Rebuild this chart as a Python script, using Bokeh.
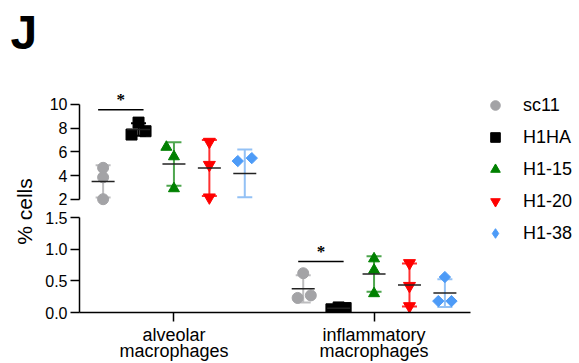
import numpy as np
from bokeh.plotting import figure
from bokeh.models import (Range1d, FixedTicker, Legend, LegendItem, Label,
                          PrintfTickFormatter)
from bokeh.layouts import row, column
from bokeh.embed import file_html
from bokeh.resources import INLINE

# ---------------- data ----------------
categories = ["alveolar\nmacrophages", "inflammatory\nmacrophages"]
series = ["sc11", "H1HA", "H1-15", "H1-20", "H1-38"]
# values per series: [alveolar replicates], [inflammatory replicates]
sc11 = [[4.65, 3.85, 2.00], [0.62, 0.23, 0.27]]
h1ha = [[8.47, 7.46, 7.74], [0.05, 0.07, 0.08]]
h1_15 = [[6.40, 5.60, 2.90], [0.85, 0.67, 0.30]]
h1_20 = [[6.85, 4.90, 2.15], [0.78, 0.42, 0.10]]
h1_38 = [[5.22, 5.47, 1.85], [0.56, 0.18, 0.18]]
values = {"sc11": sc11, "H1HA": h1ha, "H1-15": h1_15, "H1-20": h1_20, "H1-38": h1_38}
# horizontal scatter spread of overlapping replicates (category units)
jitter = {
    "sc11": [[0, 0, 0], [0, -0.028, 0.038]],
    "H1HA": [[0, -0.035, 0.035], [-0.036, 0.035, 0]],
    "H1-15": [[-0.038, 0, 0], [0, 0, 0]],
    "H1-20": [[0, 0, 0], [0, 0, 0]],
    "H1-38": [[-0.035, 0.035, 0], [0, -0.033, 0.033]],
}
upper_ticks = [2, 4, 6, 8, 10]
lower_ticks = [0.0, 0.5, 1.0, 1.5]
upper_segment = (2, 10)
lower_segment = (0, 1.5)
# (category index, series a, series b, bar height, label)
significance = [(0, "sc11", "H1HA", 9.55, "*"), (1, "sc11", "H1HA", 0.805, "*")]

# ---------------- style ----------------
FONT = "Liberation Sans"
colors = {"sc11": "#a3a3a6", "H1HA": "#000000", "H1-15": "#008000",
          "H1-20": "#ff0000", "H1-38": "#4d9bf7"}
err_colors = {"sc11": "#bdbdbf", "H1HA": "#000000", "H1-15": "#4ea64e",
              "H1-20": "#ff3030", "H1-38": "#93c1f5"}
markers = {"sc11": "circle", "H1HA": "square", "H1-15": "triangle",
           "H1-20": "inverted_triangle", "H1-38": "square"}
legend_markers = {"sc11": "circle", "H1HA": "square", "H1-15": "triangle",
                  "H1-20": "inverted_triangle", "H1-38": "diamond"}
msize = {"sc11": 11, "H1HA": 11, "H1-15": 11, "H1-20": 12, "H1-38": 8}
mangle = {"sc11": 0, "H1HA": 0, "H1-15": 0, "H1-20": 0, "H1-38": np.pi / 4}
DODGE = 0.177

xr = Range1d(-0.472, 1.482)


def style_axis(ax, size="16px"):
    ax.axis_line_color = "black"
    ax.axis_line_width = 1.5
    ax.major_tick_line_color = "black"
    ax.major_tick_line_width = 1.5
    ax.major_tick_in = 0
    ax.major_tick_out = 9
    ax.minor_tick_line_color = None
    ax.major_label_text_font = FONT
    ax.major_label_text_font_size = size
    ax.major_label_text_color = "black"
    ax.major_label_standoff = 3


def draw(p, lo, hi):
    for i, s in enumerate(series):
        ex, elo, ehi, mx, my, px, py = [], [], [], [], [], [], []
        for g in range(len(categories)):
            vals = np.array(values[s][g])
            xc = g + (i - 2) * DODGE
            m = vals.mean()
            sd = vals.std(ddof=1)
            if lo <= m <= hi:
                ex.append(xc)
                elo.append(max(m - sd, lo))
                ehi.append(min(m + sd, hi))
                mx.append(xc)
                my.append(m)
            for v, j in zip(vals, jitter[s][g]):
                if lo <= v <= hi:
                    px.append(xc + j)
                    py.append(v)
        if ex:
            p.segment(ex, elo, ex, ehi, line_color=err_colors[s], line_width=2)
            p.scatter(ex + ex, elo + ehi, marker="dash", size=15,
                      line_color=err_colors[s], line_width=2)
        if px:
            p.scatter(px, py, marker=markers[s], size=msize[s], angle=mangle[s],
                      fill_color=colors[s], line_color=colors[s])
        if mx:
            p.scatter(mx, my, marker="dash", size=23, line_color="#222222",
                      line_width=1.5)
    for g, a, b, h, lab in significance:
        if lo <= h <= hi + 1.5:
            xa = g + (series.index(a) - 2) * DODGE - 0.025
            xb = g + (series.index(b) - 2) * DODGE + 0.025
            p.segment([xa], [h], [xb], [h], line_color="black", line_width=1.5)
            p.text([(xa + xb) / 2], [h], text=[lab], text_align="center",
                   text_baseline="alphabetic", y_offset=-10,
                   text_font=FONT, text_font_size="17px", text_font_style="bold",
                   text_color="black")


common = dict(toolbar_location=None, output_backend="svg",
              background_fill_color="white", border_fill_color="white")

# upper segment (page rows 0..208)
up = figure(width=433, height=208, x_range=xr, y_range=Range1d(1.2145, 11.35),
            x_axis_location=None, min_border_left=36, min_border_right=5,
            min_border_top=88, min_border_bottom=0, **common)
up.outline_line_color = None
up.grid.visible = False
style_axis(up.yaxis[0])
up.yaxis[0].bounds = upper_segment
up.yaxis[0].ticker = FixedTicker(ticks=upper_ticks)
draw(up, *upper_segment)

# lower segment (page rows 208..363)
lo = figure(width=433, height=155, x_range=xr, y_range=Range1d(0, 1.5),
            min_border_left=36, min_border_right=5, min_border_top=9,
            min_border_bottom=51, **common)
lo.outline_line_color = None
lo.grid.visible = False
style_axis(lo.yaxis[0])
lo.yaxis[0].bounds = lower_segment
lo.yaxis[0].ticker = FixedTicker(ticks=lower_ticks)
lo.yaxis[0].formatter = PrintfTickFormatter(format="%.1f")
style_axis(lo.xaxis[0], "18px")
lo.xaxis[0].ticker = FixedTicker(ticks=list(range(len(categories))))
lo.xaxis[0].major_label_overrides = {i: c for i, c in enumerate(categories)}
lo.xaxis[0].major_label_standoff = 3
lo.xaxis[0].major_label_text_line_height = 0.8
draw(lo, *lower_segment)

# left label strip
lf = figure(width=42, height=363, x_range=Range1d(0, 42), y_range=Range1d(363, 0),
            x_axis_location=None, y_axis_location=None, min_border=0, **common)
lf.outline_line_color = None
lf.grid.visible = False
lf.add_layout(Label(x=10, y=32, text="J", text_font=FONT, text_font_size="48px",
                    text_font_style="bold", text_color="black",
                    text_baseline="alphabetic"))
lf.add_layout(Label(x=24, y=211, text="% cells", angle=np.pi / 2, text_font=FONT,
                    text_font_size="21px", text_color="black", text_align="center",
                    text_baseline="alphabetic"))

# legend strip
lg = figure(width=104, height=363, x_range=Range1d(0, 1), y_range=Range1d(0, 1),
            x_axis_location=None, y_axis_location=None, min_border=0, **common)
lg.outline_line_color = None
lg.grid.visible = False
items = []
for s in series:
    r = lg.scatter(x=[np.nan], y=[np.nan], marker=legend_markers[s],
                   fill_color=colors[s], line_color=colors[s])
    items.append(LegendItem(label=s, renderers=[r]))
legend = Legend(items=items, location=(8, 118), padding=0, spacing=8, margin=0,
                glyph_width=24, glyph_height=24, label_height=24, label_standoff=16,
                border_line_color=None, background_fill_alpha=0,
                label_text_font=FONT, label_text_font_size="18px",
                label_text_color="black")
lg.add_layout(legend)

layout = row(lf, column(up, lo), lg)
open("out.html", "w").write(file_html(layout, INLINE))
